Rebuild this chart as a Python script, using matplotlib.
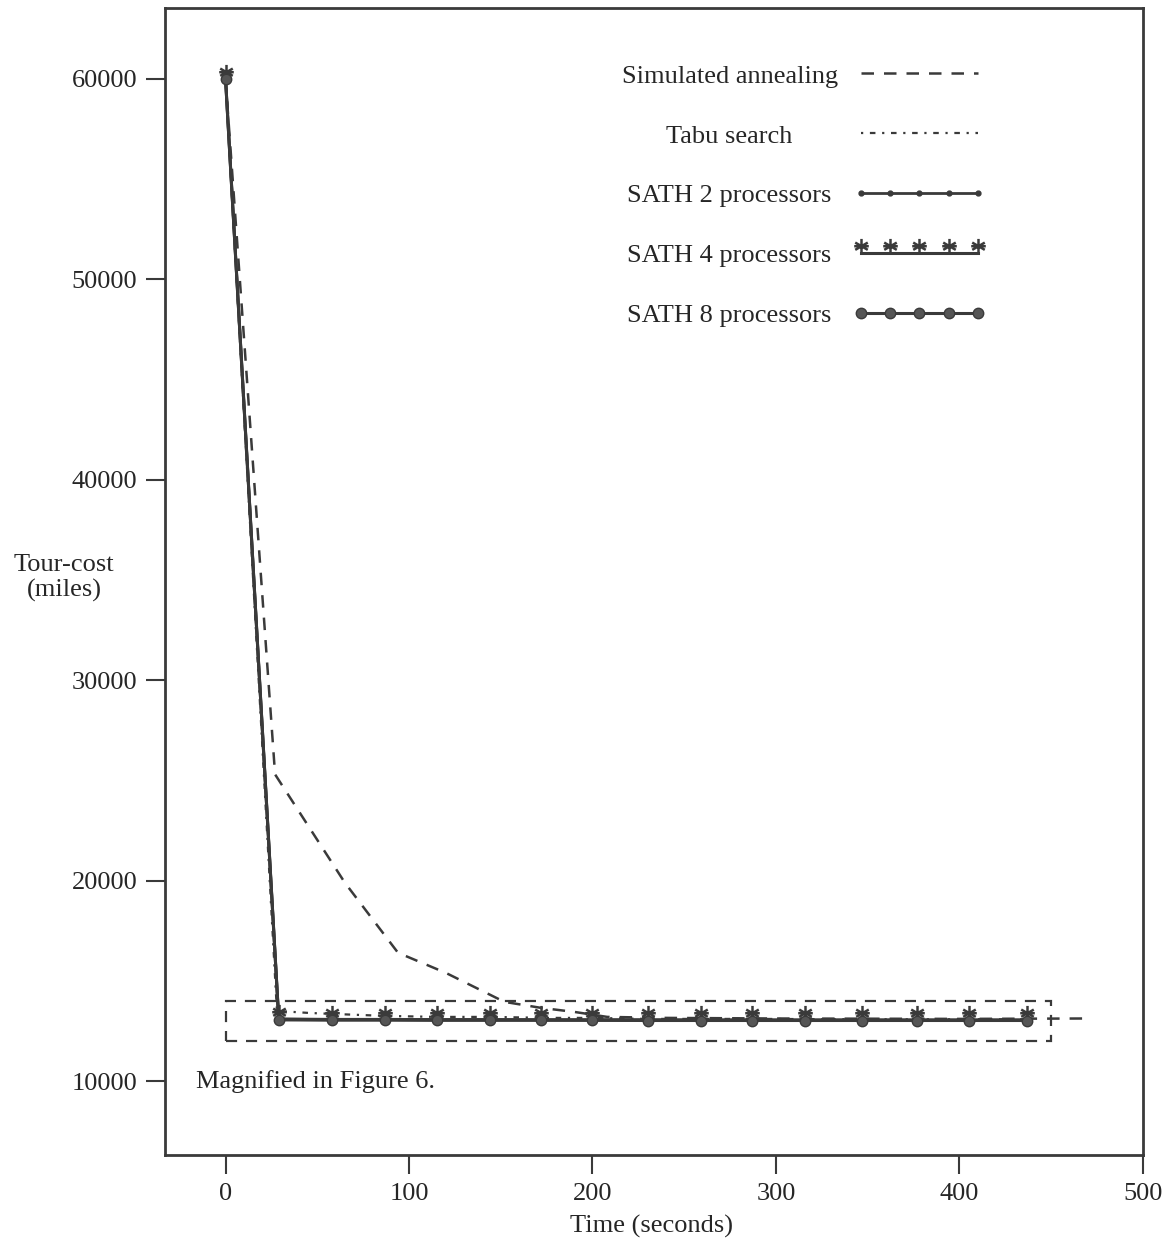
import matplotlib
matplotlib.use("Agg")
import matplotlib.pyplot as plt
from matplotlib.path import Path
from matplotlib.patches import Rectangle

plt.rcParams['font.family'] = ['Liberation Serif', 'DejaVu Serif']

# --- data ---
sa_t = [0, 27, 65, 94, 120, 152, 172, 190, 208, 240, 300, 400, 467]
sa_cost = [60000, 25300, 19900, 16400, 15400, 13950, 13650, 13450, 13200, 13150, 13120, 13100, 13120]

tabu_t = [0, 28, 45, 58, 87, 115, 145, 175, 200, 230, 290, 350, 440]
tabu_cost = [60000, 13500, 13400, 13350, 13250, 13200, 13200, 13150, 13150, 13100, 13100, 13080, 13080]

sath_t = [0, 29, 58, 87, 115, 144, 172, 200, 230, 259, 287, 316, 347, 377, 405, 437]
sath2_cost = [60000, 13100, 13080, 13080, 13070, 13070, 13060, 13060, 13060, 13050, 13050, 13050, 13050, 13050, 13050, 13050]
sath4_cost = [60000, 13080, 13060, 13060, 13050, 13050, 13050, 13040, 13040, 13040, 13040, 13040, 13040, 13040, 13040, 13040]
sath8_cost = [60000, 13050, 13040, 13040, 13030, 13030, 13030, 13030, 13020, 13020, 13020, 13020, 13020, 13020, 13020, 13020]

labels = ["Simulated annealing", "Tabu search", "SATH 2 processors",
          "SATH 4 processors", "SATH 8 processors"]

# box marking the region shown in figure 6
box_x = [0, 450]
box_y = [12000, 14000]

xticks = [0, 100, 200, 300, 400, 500]
yticks = [10000, 20000, 30000, 40000, 50000, 60000]

ink = "#3a3a3a"
txt = "#262626"

# asterisk sitting on top of the line
star_verts = [(0, 0), (0, 1), (-0.43, 0.25), (0.43, 0.75), (-0.43, 0.75), (0.43, 0.25), (-0.5, 0.5), (0.5, 0.5)]
star_codes = [Path.MOVETO, Path.LINETO] * 4
star = Path(star_verts, star_codes)

fig = plt.figure(figsize=(11.71, 12.46), dpi=100)
ax = fig.add_axes([0.1409, 0.0730, 0.8351, 0.9206])

ax.plot(sa_t, sa_cost, color=ink, lw=1.8, ls=(0, (5, 4)), label=labels[0])
ax.plot(tabu_t, tabu_cost, color=ink, lw=1.6, ls=(0, (1, 3, 2.5, 3)), label=labels[1])
ax.plot(sath_t, sath2_cost, color=ink, lw=2.0, marker='o', ms=3.5, label=labels[2])
ax.plot(sath_t, sath4_cost, color=ink, lw=2.2, marker=star, ms=21, mew=1.8,
        mfc='none', mec=ink, label=labels[3])
ax.plot(sath_t, sath8_cost, color=ink, lw=2.2, marker='o', ms=7.5, mfc='#555555', mec=ink, label=labels[4])

ax.add_patch(Rectangle((box_x[0], box_y[0]), box_x[1] - box_x[0], box_y[1] - box_y[0],
                       fill=False, ec=ink, lw=1.6, ls=(0, (5, 4))))
ax.text(-16, 10000, "Magnified in Figure 6.", fontsize=19, color=txt, ha='left', va='center')

ax.set_xlim(-33, 499)
ax.set_ylim(6307, 63543)
ax.set_xticks(xticks)
ax.set_yticks(yticks)
ax.tick_params(direction='out', length=14, width=1.5, color=ink, labelsize=19,
               labelcolor=txt, pad=6)
for s in ax.spines.values():
    s.set_linewidth(2)
    s.set_color(ink)

ax.set_xlabel("Time (seconds)", fontsize=19, color=txt)
ax.xaxis.set_label_coords(0.498, -0.052)
ax.set_ylabel("Tour-cost\n(miles)", fontsize=19, color=txt, rotation=0, ha='center', va='center')
ax.yaxis.set_label_coords(-0.103, 0.503)

leg = ax.legend(loc='upper right', bbox_to_anchor=(0.839, 0.951), frameon=False,
                fontsize=19, markerfirst=False, numpoints=5, handlelength=5.0,
                handletextpad=0.6, labelspacing=1.38, borderpad=0, borderaxespad=0)
for t in leg.get_texts():
    t.set_color(txt)

# centre the labels against each other (rows are right aligned by default)
fig.canvas.draw()
r = fig.canvas.get_renderer()
rows = leg._legend_handle_box.get_children()[0].get_children()
widths = [t.get_window_extent(r).width for t in leg.get_texts()]
wmax = max(widths)
for row, w in zip(rows, widths):
    row.sep += (wmax - w) / 2 * 72 / fig.dpi

fig.savefig("out.png", dpi=100)
